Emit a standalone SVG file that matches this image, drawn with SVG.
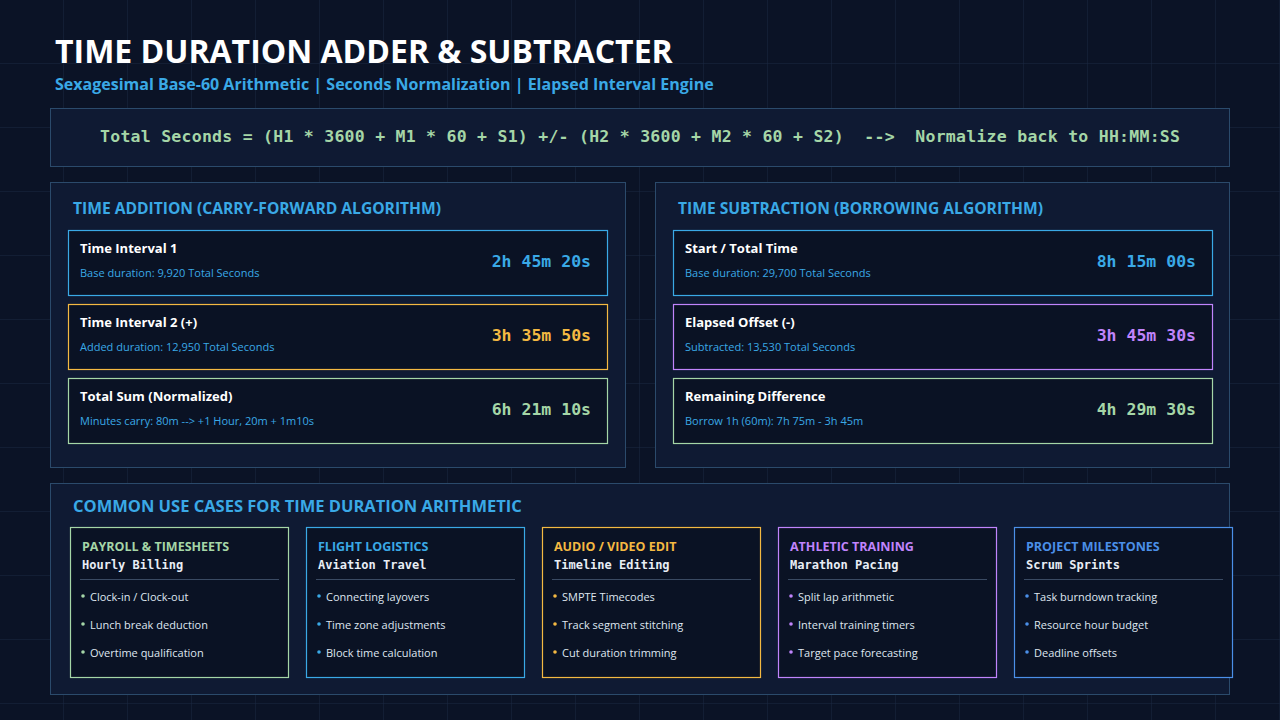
<svg xmlns="http://www.w3.org/2000/svg" width="1280" height="720" viewBox="0 0 1280 720">
<defs>
<pattern id="grid" width="64" height="64" patternUnits="userSpaceOnUse"><path d="M64 0V64M0 64H64" fill="none" stroke="#1a2742" stroke-width="1"/></pattern>
<style>
.sans{font-family:"Open Sans","Noto Sans","Liberation Sans",sans-serif}
.mono{font-family:"DejaVu Sans Mono","Liberation Mono",monospace}
.panel{fill:#0f1a33;stroke:#2b4a6b;stroke-width:1}
.card{fill:#0a1224;stroke-width:1.2}
.ph{font-size:15.6px;font-weight:700;fill:#3aa9e6}
.ct{font-size:13px;font-weight:700;fill:#ffffff}
.cs{font-size:11px}
.val{font-size:16.5px;font-weight:700;text-anchor:end}
.ut{font-size:12.5px;font-weight:700}
.us{font-size:12px;font-weight:700;fill:#e8edf5}
.li{font-size:11px;fill:#dfe6f0}
</style>
</defs>
<rect width="1280" height="720" fill="#0b1326"/>
<rect width="1280" height="720" fill="url(#grid)"/>
<text x="55" y="63" class="sans" font-size="32" font-weight="700" fill="#ffffff">TIME DURATION ADDER &amp; SUBTRACTER</text>
<text x="55" y="90" class="sans" font-size="16" font-weight="700" fill="#3aa9e6">Sexagesimal Base-60 Arithmetic | Seconds Normalization | Elapsed Interval Engine</text>
<g id="formula"><rect x="50.5" y="108.5" width="1179" height="58" class="panel"/>
<text x="100" y="142" xml:space="preserve" textLength="1080" lengthAdjust="spacing" class="mono" font-size="16.5" font-weight="700" fill="#a5d6a7">Total Seconds = (H1 * 3600 + M1 * 60 + S1) +/- (H2 * 3600 + M2 * 60 + S2)  --&gt;  Normalize back to HH:MM:SS</text></g>

<g id="addition"><rect x="50.5" y="182.5" width="575" height="285" class="panel"/>
<text x="73" y="214" class="sans ph">TIME ADDITION (CARRY-FORWARD ALGORITHM)</text></g>
<g id="add1"><rect x="68.5" y="230.5" width="539" height="65" class="card" stroke="#3aa9e6"/>
<text x="80" y="253" class="sans ct">Time Interval 1</text><text x="80" y="277" class="sans cs" fill="#3aa9e6">Base duration: 9,920 Total Seconds</text>
<text x="591" y="267" class="mono val" fill="#3aa9e6">2h 45m 20s</text></g>
<g id="add2"><rect x="68.5" y="304.5" width="539" height="65" class="card" stroke="#f4b942"/>
<text x="80" y="327" class="sans ct">Time Interval 2 (+)</text><text x="80" y="351" class="sans cs" fill="#3aa9e6">Added duration: 12,950 Total Seconds</text>
<text x="591" y="341" class="mono val" fill="#f4b942">3h 35m 50s</text></g>
<g id="add3"><rect x="68.5" y="378.5" width="539" height="65" class="card" stroke="#a5d6a7"/>
<text x="80" y="401" class="sans ct">Total Sum (Normalized)</text><text x="80" y="425" class="sans cs" fill="#3aa9e6">Minutes carry: 80m --&gt; +1 Hour, 20m + 1m10s</text>
<text x="591" y="415" class="mono val" fill="#a5d6a7">6h 21m 10s</text></g>

<g id="subtraction"><rect x="655.5" y="182.5" width="574" height="285" class="panel"/>
<text x="678" y="214" class="sans ph">TIME SUBTRACTION (BORROWING ALGORITHM)</text></g>
<g id="sub1"><rect x="673.5" y="230.5" width="539" height="65" class="card" stroke="#3aa9e6"/>
<text x="685" y="253" class="sans ct">Start / Total Time</text><text x="685" y="277" class="sans cs" fill="#3aa9e6">Base duration: 29,700 Total Seconds</text>
<text x="1196" y="267" class="mono val" fill="#3aa9e6">8h 15m 00s</text></g>
<g id="sub2"><rect x="673.5" y="304.5" width="539" height="65" class="card" stroke="#c084fc"/>
<text x="685" y="327" class="sans ct">Elapsed Offset (-)</text><text x="685" y="351" class="sans cs" fill="#3aa9e6">Subtracted: 13,530 Total Seconds</text>
<text x="1196" y="341" class="mono val" fill="#c084fc">3h 45m 30s</text></g>
<g id="sub3"><rect x="673.5" y="378.5" width="539" height="65" class="card" stroke="#a5d6a7"/>
<text x="685" y="401" class="sans ct">Remaining Difference</text><text x="685" y="425" class="sans cs" fill="#3aa9e6">Borrow 1h (60m): 7h 75m - 3h 45m</text>
<text x="1196" y="415" class="mono val" fill="#a5d6a7">4h 29m 30s</text></g>

<g id="usecases"><rect x="50.5" y="483.5" width="1179" height="211" class="panel"/>
<text x="73" y="512" class="sans" font-size="16.5" font-weight="700" fill="#3aa9e6">COMMON USE CASES FOR TIME DURATION ARITHMETIC</text></g>
<g id="uc1"><rect x="70.5" y="527.5" width="218" height="150" class="card" stroke="#a5d6a7"/>
<text x="82" y="551" class="sans ut" fill="#a5d6a7">PAYROLL &amp; TIMESHEETS</text><text x="82" y="569" class="mono us">Hourly Billing</text>
<line x1="80" y1="579.5" x2="279" y2="579.5" stroke="#3a4a63"/>
<circle cx="83" cy="596" r="1.8" fill="#a5d6a7"/><text x="90" y="601" class="sans li">Clock-in / Clock-out</text>
<circle cx="83" cy="624" r="1.8" fill="#a5d6a7"/><text x="90" y="629" class="sans li">Lunch break deduction</text>
<circle cx="83" cy="652" r="1.8" fill="#a5d6a7"/><text x="90" y="657" class="sans li">Overtime qualification</text></g>
<g id="uc2"><rect x="306.5" y="527.5" width="218" height="150" class="card" stroke="#3aa9e6"/>
<text x="318" y="551" class="sans ut" fill="#3aa9e6">FLIGHT LOGISTICS</text><text x="318" y="569" class="mono us">Aviation Travel</text>
<line x1="316" y1="579.5" x2="515" y2="579.5" stroke="#3a4a63"/>
<circle cx="319" cy="596" r="1.8" fill="#3aa9e6"/><text x="326" y="601" class="sans li">Connecting layovers</text>
<circle cx="319" cy="624" r="1.8" fill="#3aa9e6"/><text x="326" y="629" class="sans li">Time zone adjustments</text>
<circle cx="319" cy="652" r="1.8" fill="#3aa9e6"/><text x="326" y="657" class="sans li">Block time calculation</text></g>
<g id="uc3"><rect x="542.5" y="527.5" width="218" height="150" class="card" stroke="#f4b942"/>
<text x="554" y="551" class="sans ut" fill="#f4b942">AUDIO / VIDEO EDIT</text><text x="554" y="569" class="mono us">Timeline Editing</text>
<line x1="552" y1="579.5" x2="751" y2="579.5" stroke="#3a4a63"/>
<circle cx="555" cy="596" r="1.8" fill="#f4b942"/><text x="562" y="601" class="sans li">SMPTE Timecodes</text>
<circle cx="555" cy="624" r="1.8" fill="#f4b942"/><text x="562" y="629" class="sans li">Track segment stitching</text>
<circle cx="555" cy="652" r="1.8" fill="#f4b942"/><text x="562" y="657" class="sans li">Cut duration trimming</text></g>
<g id="uc4"><rect x="778.5" y="527.5" width="218" height="150" class="card" stroke="#c084fc"/>
<text x="790" y="551" class="sans ut" fill="#c084fc">ATHLETIC TRAINING</text><text x="790" y="569" class="mono us">Marathon Pacing</text>
<line x1="788" y1="579.5" x2="987" y2="579.5" stroke="#3a4a63"/>
<circle cx="791" cy="596" r="1.8" fill="#c084fc"/><text x="798" y="601" class="sans li">Split lap arithmetic</text>
<circle cx="791" cy="624" r="1.8" fill="#c084fc"/><text x="798" y="629" class="sans li">Interval training timers</text>
<circle cx="791" cy="652" r="1.8" fill="#c084fc"/><text x="798" y="657" class="sans li">Target pace forecasting</text></g>
<g id="uc5"><rect x="1014.5" y="527.5" width="218" height="150" class="card" stroke="#4b8fe8"/>
<text x="1026" y="551" class="sans ut" fill="#4b8fe8">PROJECT MILESTONES</text><text x="1026" y="569" class="mono us">Scrum Sprints</text>
<line x1="1024" y1="579.5" x2="1223" y2="579.5" stroke="#3a4a63"/>
<circle cx="1027" cy="596" r="1.8" fill="#4b8fe8"/><text x="1034" y="601" class="sans li">Task burndown tracking</text>
<circle cx="1027" cy="624" r="1.8" fill="#4b8fe8"/><text x="1034" y="629" class="sans li">Resource hour budget</text>
<circle cx="1027" cy="652" r="1.8" fill="#4b8fe8"/><text x="1034" y="657" class="sans li">Deadline offsets</text></g>
<g id="connectors"/>
</svg>
